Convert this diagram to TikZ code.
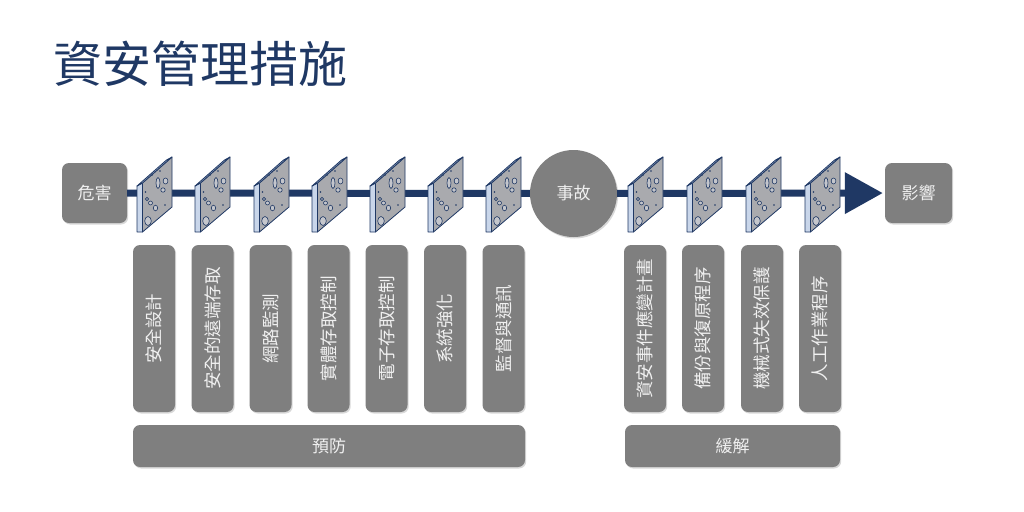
\documentclass[tikz,border=0pt]{standalone}
\usepackage{fontspec}
\setmainfont{Noto Sans CJK TC}
\usetikzlibrary{arrows.meta,shadows}

\definecolor{boxgray}{HTML}{7F7F7F}
\definecolor{boxtext}{HTML}{F0F0F0}
\definecolor{navy}{HTML}{1F3864}
\definecolor{platefront}{HTML}{C9D6EA}
\definecolor{plateface}{HTML}{A9AAAE}
\definecolor{platehole}{HTML}{C4C6CC}

\tikzstyle{gbox} = [rectangle, rounded corners=7pt, fill=boxgray, text=boxtext, font=\fontsize{17}{19}\selectfont, inner sep=0pt, drop shadow={opacity=.3,shadow xshift=1.2pt,shadow yshift=-1.5pt}]
\tikzstyle{measure} = [gbox, rotate=90, minimum width=167pt, minimum height=42pt, font=\fontsize{17.5}{19}\selectfont]
\tikzstyle{group} = [gbox, minimum height=42pt]
\tikzstyle{mainline} = [navy, line width=7pt]
\tikzstyle{plateedge} = [draw=navy, fill=platefront, line width=.8pt, line join=round]
\tikzstyle{hole} = [draw=navy, fill=platehole, line width=.6pt]

\newcommand{\drawplate}[1]{%
	\begin{scope}[shift={(#1,-232)}]
		\filldraw[plateedge, fill=plateface] (5.5,0) -- (35,25) -- (35,75) -- (5.5,49) -- cycle;
		\filldraw[plateedge] (0,0) -- (5.5,0) -- (5.5,49) -- (0,46) -- cycle;
		\filldraw[plateedge] (0,46) -- (5.5,49) -- (35,75) -- (29.5,72) -- cycle;
		\draw[hole] (21,49) ellipse [x radius=2, y radius=5.5];
		\draw[hole] (28.5,51) ellipse [x radius=2.4, y radius=3];
		\draw[hole] (26,42) circle [radius=2.2];
		\draw[hole] (10,33) circle [radius=1.6];
		\draw[hole] (13.5,29) circle [radius=2];
		\draw[hole] (18.5,24) ellipse [x radius=2.2, y radius=2.8];
		\draw[hole] (11,11) ellipse [x radius=3.3, y radius=4.5];
		\fill[navy] (15,57) circle [radius=.9];
		\fill[navy] (23,61) circle [radius=.9];
		\fill[navy] (28,27) circle [radius=.9];
		\fill[navy] (8.5,40) circle [radius=.9];
	\end{scope}}

\begin{document}
\begin{tikzpicture}[x=1pt,y=1pt]
	\useasboundingbox (0,0) rectangle (1024,-511);
	\fill[white] (0,0) rectangle (1024,-511);
	\node[anchor=west, text=navy, font=\fontsize{49}{54}\selectfont, inner sep=0pt] (title) at (53,-64) {資安管理措施};

	\node[gbox, minimum width=65pt, minimum height=60pt] (danger) at (94.5,-193) {危害};
	\node[gbox, circle, minimum size=87pt] (accident) at (573.5,-193.5) {事故};
	\node[gbox, minimum width=67pt, minimum height=60pt] (impact) at (918.5,-193) {影響};

	\draw[mainline] (danger) -- (accident);
	\draw[mainline, -{Triangle[length=38pt,width=40pt]}, shorten >=2pt] (accident) -- (impact);

	\foreach \px in {137,195,254,312,370,428,486,628,687,746,805}
		\drawplate{\px};

	\node[measure] (p1) at (154,-328.5) {安全設計};
	\node[measure] (p2) at (212.5,-328.5) {安全的遠端存取};
	\node[measure] (p3) at (270.5,-328.5) {網路監測};
	\node[measure] (p4) at (328.5,-328.5) {實體存取控制};
	\node[measure] (p5) at (386.5,-328.5) {電子存取控制};
	\node[measure] (p6) at (445,-328.5) {系統強化};
	\node[measure] (p7) at (503.5,-328.5) {監督與通訊};
	\node[measure] (m1) at (645,-328.5) {資安事件應變計畫};
	\node[measure] (m2) at (703,-328.5) {備份與復原程序};
	\node[measure] (m3) at (762,-328.5) {機械式失效保護};
	\node[measure] (m4) at (820,-328.5) {人工作業程序};

	\node[group, minimum width=392pt] (prevent) at (329,-446) {預防};
	\node[group, minimum width=215pt] (mitigate) at (732.5,-446) {緩解};
\end{tikzpicture}
\end{document}
